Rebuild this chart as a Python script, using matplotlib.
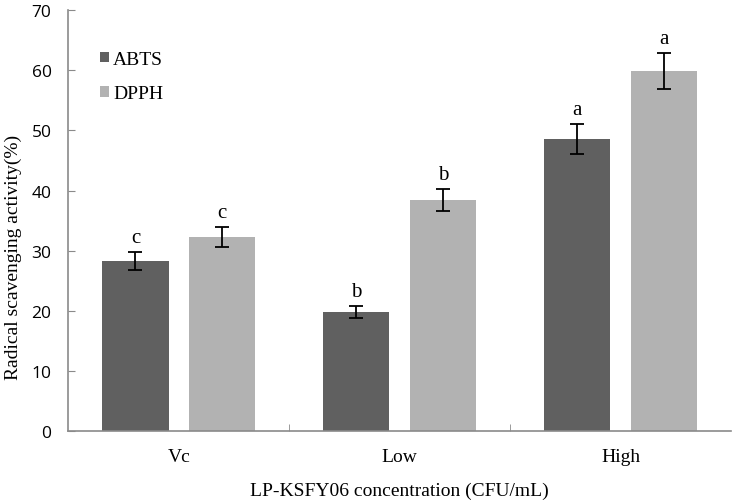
import numpy as np
import matplotlib
matplotlib.use("Agg")
import matplotlib.pyplot as plt

# Data
categories = ["Vc", "Low", "High"]
abts_mean = [28.3, 19.8, 48.6]
abts_err = [1.45, 1.0, 2.45]
dpph_mean = [32.3, 38.4, 59.8]
dpph_err = [1.6, 1.8, 3.0]
abts_letters = ["c", "b", "a"]
dpph_letters = ["c", "b", "a"]

SERIF = ["Liberation Serif", "DejaVu Serif"]
SANS = ["Open Sans", "DejaVu Sans"]
AXIS_GRAY = "#8a8a8a"

fig = plt.figure(figsize=(7.35, 5.02), dpi=100)
ax = fig.add_axes([0.0929, 0.1388, 0.9016, 0.8392])

x = np.arange(len(categories))
width = 0.30
offset = 0.196

ax.bar(x - offset, abts_mean, width, color="#606060", label="ABTS", zorder=2)
ax.bar(x + offset, dpph_mean, width, color="#b2b2b2", label="DPPH", zorder=2)
ax.errorbar(x - offset, abts_mean, yerr=abts_err, fmt="none", ecolor="black",
            elinewidth=1.3, capsize=5, capthick=1.3, zorder=3)
ax.errorbar(x + offset, dpph_mean, yerr=dpph_err, fmt="none", ecolor="black",
            elinewidth=1.3, capsize=5, capthick=1.3, zorder=3)

# significance letters above error bars
for xi, m, e, t in zip(x - offset, abts_mean, abts_err, abts_letters):
    ax.text(xi, m + e + 2.4, t, ha="center", va="center", fontsize=15, family=SERIF)
for xi, m, e, t in zip(x + offset, dpph_mean, dpph_err, dpph_letters):
    ax.text(xi, m + e + 2.4, t, ha="center", va="center", fontsize=15, family=SERIF)

ax.set_xlim(-0.5, len(categories) - 0.5)
ax.set_ylim(0, 70)
ax.set_yticks(range(0, 71, 10))
ax.set_xticks(x)
ax.set_xticklabels(categories, family=SERIF, fontsize=14)
ax.set_xticks([0.5, 1.5], minor=True)
ax.tick_params(axis="x", which="major", length=0, pad=12)
ax.tick_params(axis="x", which="minor", direction="in", length=5, color=AXIS_GRAY)
ax.tick_params(axis="y", direction="in", length=5, color=AXIS_GRAY, pad=12)
for lbl in ax.get_yticklabels():
    lbl.set_family(SANS)
    lbl.set_fontsize(12.5)

for side in ["top", "right"]:
    ax.spines[side].set_visible(False)
for side in ["left", "bottom"]:
    ax.spines[side].set_color(AXIS_GRAY)
    ax.spines[side].set_linewidth(1.2)

ax.set_ylabel("Radical scavenging activity(%)", family=SERIF, fontsize=14)
ax.yaxis.set_label_coords(-0.07, 0.415)
ax.set_xlabel("LP-KSFY06 concentration (CFU/mL)", family=SERIF, fontsize=14, labelpad=12)

ax.legend(loc="upper left", bbox_to_anchor=(0.022, 0.945), frameon=False,
          prop={"family": SERIF, "size": 14}, handlelength=0.46, handleheight=0.46,
          handletextpad=0.2, labelspacing=0.9)

fig.savefig("out.png", dpi=100)
